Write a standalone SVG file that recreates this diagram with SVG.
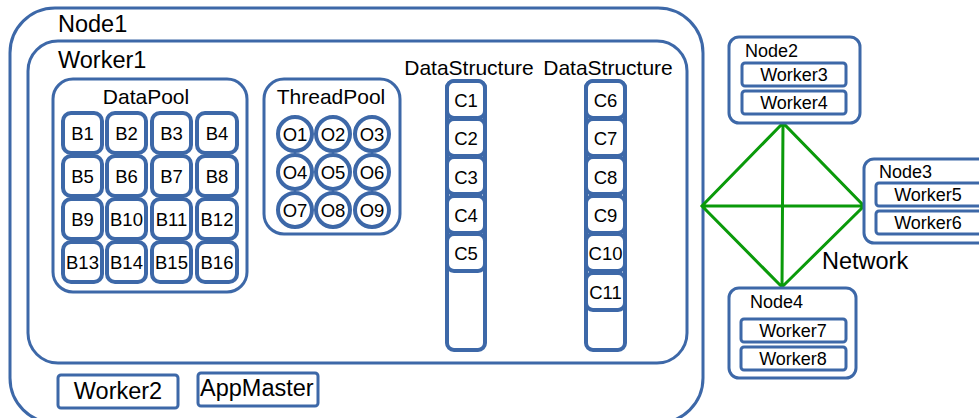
<svg xmlns="http://www.w3.org/2000/svg" width="979" height="418" viewBox="0 0 979 418">
<style>
.b{fill:#fff;stroke:#3d68a8;stroke-width:3}
.c{fill:#fff;stroke:#3d68a8;stroke-width:4}
text{font-family:"Liberation Sans",Arial,sans-serif;fill:#000}
.big{font-size:23.5px}
.mid{font-size:21px}
.sm{font-size:18.5px}
.nd{font-size:18px}
.m{text-anchor:middle}
.net{stroke:#0a9a0a;stroke-width:3;fill:none}
</style>
<g id="Node1">
<rect class="b" x="10" y="8" width="693" height="415" rx="45"/>
<text class="big" x="58" y="32">Node1</text>
</g>
<g id="Worker1">
<rect class="b" x="28" y="41" width="659" height="322" rx="30"/>
<text class="big" x="58" y="68">Worker1</text>
</g>
<g id="DataPool">
<rect class="b" x="53" y="79" width="194" height="213" rx="20"/>
<text class="mid m" x="146" y="104">DataPool</text>
</g>
<g id="B1"><rect class="c" x="63" y="113" width="39" height="40" rx="8"/><text class="sm m" x="82.5" y="140">B1</text></g>
<g id="B2"><rect class="c" x="107" y="113" width="39" height="40" rx="8"/><text class="sm m" x="126.5" y="140">B2</text></g>
<g id="B3"><rect class="c" x="152" y="113" width="39" height="40" rx="8"/><text class="sm m" x="171.5" y="140">B3</text></g>
<g id="B4"><rect class="c" x="197" y="113" width="40" height="40" rx="8"/><text class="sm m" x="217" y="140">B4</text></g>
<g id="B5"><rect class="c" x="63" y="156" width="39" height="40" rx="8"/><text class="sm m" x="82.5" y="183">B5</text></g>
<g id="B6"><rect class="c" x="107" y="156" width="39" height="40" rx="8"/><text class="sm m" x="126.5" y="183">B6</text></g>
<g id="B7"><rect class="c" x="152" y="156" width="39" height="40" rx="8"/><text class="sm m" x="171.5" y="183">B7</text></g>
<g id="B8"><rect class="c" x="197" y="156" width="40" height="40" rx="8"/><text class="sm m" x="217" y="183">B8</text></g>
<g id="B9"><rect class="c" x="63" y="199" width="39" height="40" rx="8"/><text class="sm m" x="82.5" y="226">B9</text></g>
<g id="B10"><rect class="c" x="107" y="199" width="39" height="40" rx="8"/><text class="sm m" x="126.5" y="226">B10</text></g>
<g id="B11"><rect class="c" x="152" y="199" width="39" height="40" rx="8"/><text class="sm m" x="171.5" y="226">B11</text></g>
<g id="B12"><rect class="c" x="197" y="199" width="40" height="40" rx="8"/><text class="sm m" x="217" y="226">B12</text></g>
<g id="B13"><rect class="c" x="63" y="242" width="39" height="40" rx="8"/><text class="sm m" x="82.5" y="269">B13</text></g>
<g id="B14"><rect class="c" x="107" y="242" width="39" height="40" rx="8"/><text class="sm m" x="126.5" y="269">B14</text></g>
<g id="B15"><rect class="c" x="152" y="242" width="39" height="40" rx="8"/><text class="sm m" x="171.5" y="269">B15</text></g>
<g id="B16"><rect class="c" x="197" y="242" width="40" height="40" rx="8"/><text class="sm m" x="217" y="269">B16</text></g>
<g id="ThreadPool">
<rect class="b" x="264" y="79" width="136" height="155" rx="20"/>
<text class="mid m" x="331" y="104">ThreadPool</text>
</g>
<g id="O1"><circle class="c" cx="295" cy="134" r="17"/><text class="sm m" x="295" y="140.5">O1</text></g>
<g id="O2"><circle class="c" cx="333" cy="134" r="17"/><text class="sm m" x="333" y="140.5">O2</text></g>
<g id="O3"><circle class="c" cx="372" cy="134" r="17"/><text class="sm m" x="372" y="140.5">O3</text></g>
<g id="O4"><circle class="c" cx="295" cy="172" r="17"/><text class="sm m" x="295" y="178.5">O4</text></g>
<g id="O5"><circle class="c" cx="333" cy="172" r="17"/><text class="sm m" x="333" y="178.5">O5</text></g>
<g id="O6"><circle class="c" cx="372" cy="172" r="17"/><text class="sm m" x="372" y="178.5">O6</text></g>
<g id="O7"><circle class="c" cx="295" cy="210" r="17"/><text class="sm m" x="295" y="216.5">O7</text></g>
<g id="O8"><circle class="c" cx="333" cy="210" r="17"/><text class="sm m" x="333" y="216.5">O8</text></g>
<g id="O9"><circle class="c" cx="372" cy="210" r="17"/><text class="sm m" x="372" y="216.5">O9</text></g>
<g id="DataStructure1">
<text class="mid m" x="469" y="75">DataStructure</text>
<rect class="c" x="447" y="81" width="38" height="269" rx="7"/>
<rect class="c" x="447" y="81" width="38" height="37" rx="7"/><text class="sm m" x="466" y="107">C1</text>
<rect class="c" x="447" y="119" width="38" height="37" rx="7"/><text class="sm m" x="466" y="145">C2</text>
<rect class="c" x="447" y="157" width="38" height="37" rx="7"/><text class="sm m" x="466" y="184">C3</text>
<rect class="c" x="447" y="196" width="38" height="37" rx="7"/><text class="sm m" x="466" y="222">C4</text>
<rect class="c" x="447" y="234" width="38" height="37" rx="7"/><text class="sm m" x="466" y="260">C5</text>
</g>
<g id="DataStructure2">
<text class="mid m" x="608" y="75">DataStructure</text>
<rect class="c" x="586" y="81" width="39" height="269" rx="7"/>
<rect class="c" x="586" y="81" width="39" height="37" rx="7"/><text class="sm m" x="605.5" y="107">C6</text>
<rect class="c" x="586" y="119" width="39" height="37" rx="7"/><text class="sm m" x="605.5" y="145">C7</text>
<rect class="c" x="586" y="157" width="39" height="37" rx="7"/><text class="sm m" x="605.5" y="184">C8</text>
<rect class="c" x="586" y="196" width="39" height="37" rx="7"/><text class="sm m" x="605.5" y="222">C9</text>
<rect class="c" x="586" y="234" width="39" height="37" rx="7"/><text class="sm m" x="605.5" y="260">C10</text>
<rect class="c" x="586" y="273" width="39" height="37" rx="7"/><text class="sm m" x="605.5" y="299">C11</text>
</g>
<g id="Worker2">
<rect class="b" x="58" y="375" width="120" height="33" rx="3"/>
<text class="big m" x="118" y="399">Worker2</text>
</g>
<g id="AppMaster">
<rect class="b" x="198" y="373" width="120" height="33" rx="3"/>
<text class="big" x="200" y="396">AppMaster</text>
</g>
<g id="connectors">
<path class="net" d="M783,123 L702,206 L782,287 L864,206 Z M783,123 L782,287 M702,206 L864,206"/>
</g>
<g id="Node2">
<rect class="b" x="729" y="37" width="131" height="86" rx="10"/>
<text class="nd" x="745" y="57">Node2</text>
<rect class="b" x="742" y="63" width="104" height="23" rx="3"/><text class="nd m" x="794" y="81">Worker3</text>
<rect class="b" x="742" y="91" width="104" height="23" rx="3"/><text class="nd m" x="794" y="109">Worker4</text>
</g>
<g id="Node3">
<rect class="b" x="864" y="159" width="130" height="84" rx="10"/>
<text class="nd" x="879" y="178">Node3</text>
<rect class="b" x="876" y="183" width="110" height="23" rx="3"/><text class="nd m" x="928" y="201">Worker5</text>
<rect class="b" x="876" y="211" width="110" height="23" rx="3"/><text class="nd m" x="928" y="229">Worker6</text>
</g>
<text class="big" x="822" y="269">Network</text>
<g id="Node4">
<rect class="b" x="729" y="288" width="127" height="90" rx="10"/>
<text class="nd" x="750" y="308">Node4</text>
<rect class="b" x="741" y="319" width="105" height="23" rx="3"/><text class="nd m" x="793" y="337">Worker7</text>
<rect class="b" x="741" y="347" width="105" height="23" rx="3"/><text class="nd m" x="793" y="365">Worker8</text>
</g>
</svg>
